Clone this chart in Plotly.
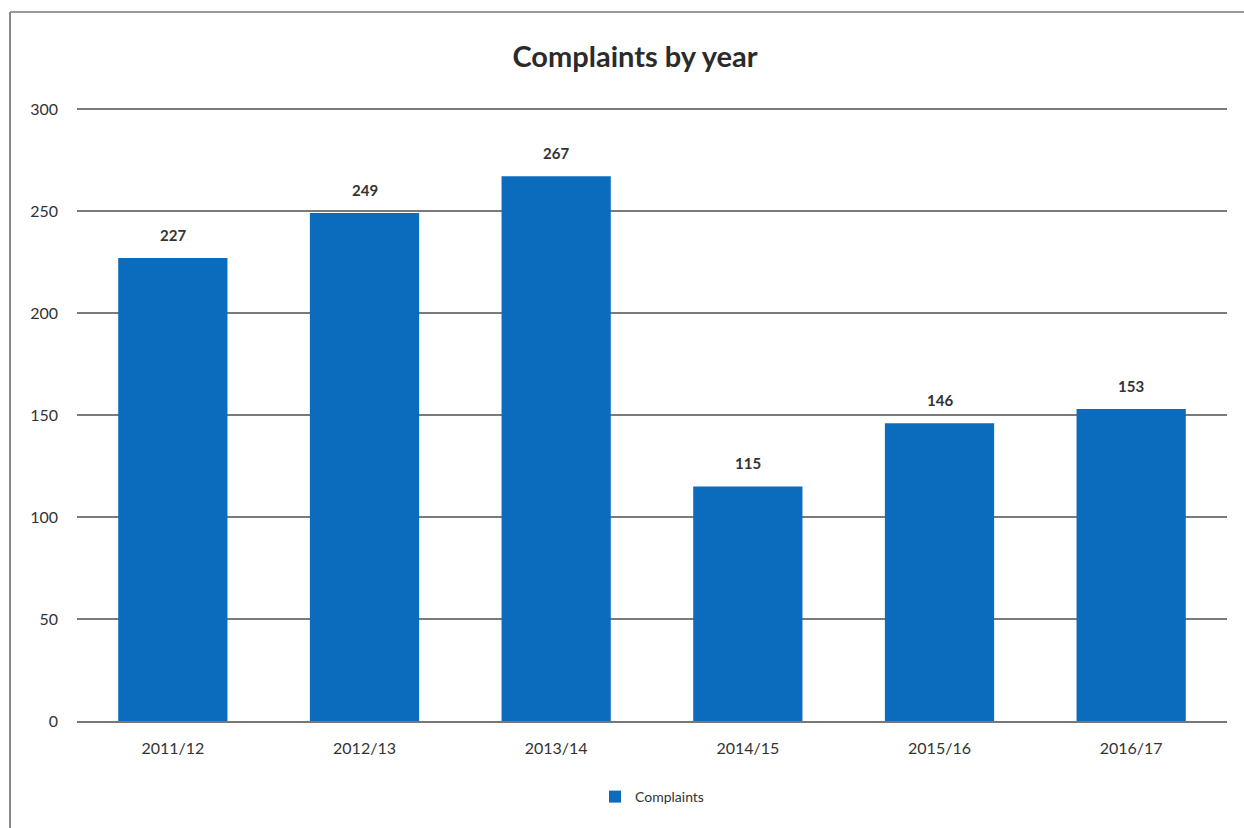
import plotly.graph_objects as go

years = ["2011/12", "2012/13", "2013/14", "2014/15", "2015/16", "2016/17"]
complaints = [227, 249, 267, 115, 146, 153]
y_ticks = [0, 50, 100, 150, 200, 250, 300]

W, H = 1244, 828
L, R, T, B = 77, 17, 107, 107
pw, ph = W - L - R, H - T - B
FONT = "Lato, Open Sans, sans-serif"

fig = go.Figure()
fig.add_trace(go.Bar(
    x=years, y=complaints, name="Complaints",
    marker=dict(color="#0b6cbd", line=dict(width=0)),
))

# value labels above each bar
for yr, v in zip(years, complaints):
    fig.add_annotation(x=yr, y=v, text=f"<b>{v}</b>", showarrow=False,
                       yanchor="bottom", yshift=12,
                       font=dict(family=FONT, size=15, color="#333333"))

fig.update_layout(
    width=W, height=H,
    margin=dict(l=L, r=R, t=T, b=B),
    paper_bgcolor="white", plot_bgcolor="white",
    title=dict(text="<b>Complaints by year</b>", x=(635 - L) / pw, xref="paper",
               y=1 - 57 / H, yanchor="middle", xanchor="center",
               font=dict(family=FONT, size=29, color="#2b2b2b")),
    bargap=0.43,
    showlegend=True,
    legend=dict(orientation="h", x=0.5, xanchor="center", y=-(797 - 721) / ph,
                yanchor="middle", font=dict(family=FONT, size=14, color="#333333"),
                itemwidth=30),
    xaxis=dict(showgrid=False, showline=True, linecolor="#777777", linewidth=2,
               ticks="", ticklabelstandoff=12,
               tickfont=dict(family=FONT, size=16, color="#333333")),
    yaxis=dict(range=[0, 301], tickvals=y_ticks, showgrid=True, gridcolor="#7a7a7a",
               gridwidth=2, zeroline=False, showline=False, ticks="",
               ticklabelstandoff=18,
               tickfont=dict(family=FONT, size=16, color="#333333")),
    font=dict(family=FONT),
)

# outer chart frame (left and top edges visible)
fig.add_shape(type="line", xref="paper", yref="paper",
              x0=(10 - L) / pw, x1=(10 - L) / pw, y0=-(H - T - ph) / ph - 0.01,
              y1=1 + (T - 12) / ph, line=dict(color="#888888", width=2))
fig.add_shape(type="line", xref="paper", yref="paper",
              x0=(10 - L) / pw, x1=(W - L) / pw, y0=1 + (T - 12) / ph,
              y1=1 + (T - 12) / ph, line=dict(color="#999999", width=2))

fig.write_html("out.html")
